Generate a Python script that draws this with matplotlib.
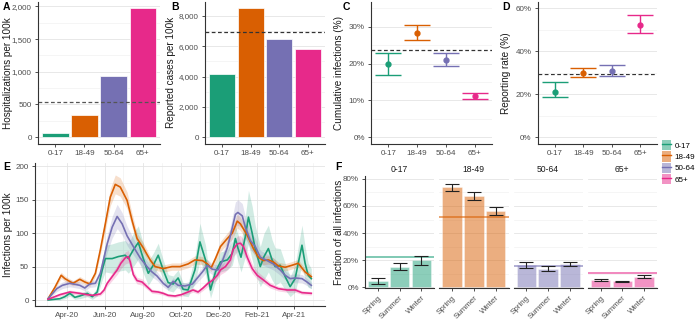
import numpy as np
import matplotlib
matplotlib.use("Agg")
import matplotlib.pyplot as plt
import matplotlib.dates as mdates
from matplotlib.patches import Patch
from matplotlib.lines import Line2D
from matplotlib.ticker import FuncFormatter, MultipleLocator

plt.rcParams['font.family'] = ['Liberation Sans', 'DejaVu Sans']

## data ##
ages = ['0-17', '18-49', '50-64', '65+']
cols = ['#1B9E77', '#D95F02', '#7570B3', '#E7298A']

hosp = [60, 340, 940, 1970]
hosp_all = 540
cases = [4200, 8500, 6450, 5850]
cases_all = 6950

cum_inf = [19.8, 28.4, 21.0, 11.1]
cum_lo = [16.8, 26.3, 19.4, 10.3]
cum_hi = [23.0, 30.4, 22.8, 12.1]
cum_all = 23.6

rep_rate = [21.0, 30.0, 31.0, 52.5]
rep_lo = [18.7, 28.2, 28.5, 48.5]
rep_hi = [25.5, 32.0, 33.5, 56.8]
rep_all = 29.5

# infections per 100k, days since 2020-03-01
day_017 = [1, 20, 28, 36, 44, 52, 64, 72, 80, 88, 93, 104, 114, 125, 130, 138, 146, 154, 162, 170,
           178, 186, 194, 202, 210, 218, 226, 237, 245, 254, 262, 270, 278, 289, 297, 302, 306, 311, 318, 323,
           329, 334, 342, 348, 355, 361, 366, 374, 382, 390, 398, 403, 409, 414, 419, 424]
inf_017 = [0, 2, 5, 10, 4, 6, 10, 5, 12, 45, 62, 62, 65, 67, 62, 75, 86, 62, 40, 52,
           67, 45, 26, 24, 33, 16, 15, 45, 87, 60, 15, 42, 57, 60, 70, 92, 78, 64, 95, 124,
           100, 76, 50, 65, 77, 60, 50, 52, 35, 20, 32, 55, 82, 55, 37, 32]
err_017 = [1, 2, 3, 4, 3, 4, 5, 4, 6, 15, 20, 22, 22, 22, 22, 25, 25, 22, 18, 18,
           18, 15, 12, 12, 12, 10, 10, 20, 28, 22, 12, 15, 15, 15, 18, 20, 20, 22, 30, 40,
           40, 35, 30, 35, 35, 30, 28, 25, 20, 15, 20, 25, 30, 25, 18, 15]

day_1849 = [1, 12, 22, 28, 41, 52, 60, 68, 77, 85, 93, 101, 109, 117, 128, 136, 144, 154, 165, 173,
            186, 200, 213, 226, 237, 249, 257, 263, 270, 278, 289, 297, 305, 310, 321, 331, 339, 347, 355, 363,
            371, 382, 393, 403, 414, 424]
inf_1849 = [2, 19, 37, 32, 25, 31, 27, 24, 40, 75, 114, 154, 173, 169, 149, 119, 92, 78, 60, 50,
            47, 50, 50, 54, 60, 59, 54, 48, 62, 80, 92, 100, 118, 114, 97, 77, 64, 59, 60, 57,
            51, 49, 52, 55, 42, 35]

day_5064 = [1, 15, 24, 36, 52, 60, 68, 77, 85, 96, 104, 112, 120, 128, 138, 149, 160, 168, 176, 186,
            194, 202, 210, 221, 233, 241, 249, 257, 265, 274, 281, 289, 295, 302, 306, 313, 318, 326, 334, 342,
            353, 363, 374, 382, 390, 398, 409, 417, 424]
inf_5064 = [2, 17, 22, 25, 22, 18, 24, 25, 40, 84, 109, 125, 114, 96, 80, 63, 50, 42, 36, 25,
            19, 28, 22, 21, 24, 33, 42, 52, 46, 45, 58, 78, 100, 128, 131, 126, 109, 89, 80, 64,
            59, 54, 45, 37, 32, 33, 32, 27, 22]

day_65 = [1, 9, 20, 36, 52, 64, 73, 85, 91, 96, 104, 112, 118, 125, 130, 133, 138, 144, 152, 160,
          168, 178, 186, 194, 205, 215, 226, 234, 242, 250, 258, 266, 273, 278, 286, 294, 298, 305, 310, 315,
          321, 329, 337, 347, 358, 371, 385, 398, 409, 424]
inf_65 = [1, 4, 8, 12, 10, 8, 7, 9, 15, 25, 35, 45, 55, 63, 65, 57, 38, 29, 27, 20,
          13, 12, 10, 7, 6, 8, 12, 15, 12, 18, 25, 30, 37, 45, 50, 60, 75, 84, 85, 80,
          64, 47, 37, 30, 22, 17, 15, 15, 11, 10]

# relative width of the credible band for the smoother series
rel_1849 = 0.07
rel_5064 = 0.13
rel_65 = 0.12

seasons = ['Spring', 'Summer', 'Winter']
frac_mid = [[4.4, 14.8, 19.7], [73.8, 67.7, 56.1], [16.0, 13.0, 16.7], [4.9, 4.2, 7.4]]
frac_lo = [[2.5, 12.3, 16.5], [71.3, 64.5, 53.4], [14.3, 11.8, 15.3], [4.2, 3.9, 6.4]]
frac_hi = [[6.6, 18.0, 23.1], [76.3, 70.1, 59.0], [18.5, 15.3, 18.7], [5.9, 4.7, 8.6]]
pop_share = [22.1, 52.2, 15.7, 10.3]

W, H = 700, 320
def box(l, t, r, b):
    return [l / W, 1 - b / H, (r - l) / W, (b - t) / H]

txt = '#4d4d4d'
TS = 5.8   # tick label size
LS = 7.2   # axis title size
def style(ax, xgrid=False):
    for s in ['top', 'right']:
        ax.spines[s].set_visible(False)
    for s in ['left', 'bottom']:
        ax.spines[s].set_color('#333333')
        ax.spines[s].set_linewidth(0.8)
    ax.tick_params(which='major', labelsize=TS, labelcolor=txt, color='#333333', length=2.5, width=0.6, pad=2)
    ax.tick_params(which='minor', length=0)
    ax.grid(axis='y', which='major', color='#e4e4e4', lw=0.6)
    ax.grid(axis='y', which='minor', color='#f2f2f2', lw=0.5)
    if xgrid:
        ax.grid(axis='x', which='major', color='#e4e4e4', lw=0.6)
        ax.grid(axis='x', which='minor', color='#f2f2f2', lw=0.5)
    ax.set_axisbelow(True)

def ylab(ax, text, xr, l, r):
    # xr: right edge of the rotated title, in pixels
    ax.set_ylabel(text, fontsize=LS, color='#1a1a1a')
    ax.yaxis.set_label_coords((xr - l) / (r - l), 0.5)

comma = FuncFormatter(lambda v, p: f'{int(v):,}')
pct = FuncFormatter(lambda v, p: f'{v:.0f}%')

fig = plt.figure(figsize=(7, 3.2), dpi=100)
x4 = np.arange(4)

## A ##
ax = fig.add_axes(box(38, 2, 160, 143.5))
ax.bar(x4, hosp, 0.9, color=cols, edgecolor='white', lw=0.5)
ax.axhline(hosp_all, color='#555555', ls=(0, (3, 2)), lw=0.9)
ax.set_ylim(-98.5, 2068.5)
ax.set_xlim(-0.6, 3.6)
ax.yaxis.set_major_locator(MultipleLocator(500))
ax.yaxis.set_minor_locator(MultipleLocator(250))
ax.yaxis.set_major_formatter(comma)
ax.set_xticks(x4, ages)
ylab(ax, 'Hospitalizations per 100k', 13, 38, 160)
style(ax)

## B ##
ax = fig.add_axes(box(205, 2, 325, 143.5))
ax.bar(x4, cases, 0.9, color=cols, edgecolor='white', lw=0.5)
ax.axhline(cases_all, color='#333333', ls=(0, (3, 2)), lw=0.9)
ax.set_ylim(-425, 8925)
ax.set_xlim(-0.6, 3.6)
ax.yaxis.set_major_locator(MultipleLocator(2000))
ax.yaxis.set_minor_locator(MultipleLocator(1000))
ax.yaxis.set_major_formatter(comma)
ax.set_xticks(x4, ages)
ylab(ax, 'Reported cases per 100k', 176, 205, 325)
style(ax)

## C, D ##
for (l, r), mid, lo, hi, ref, lim, step, lab, xr in [
        ((371, 492), cum_inf, cum_lo, cum_hi, cum_all, (-1.75, 36.75), 10, 'Cumulative infections (%)', 344),
        ((538, 657), rep_rate, rep_lo, rep_hi, rep_all, (-3, 63), 20, 'Reporting rate (%)', 511)]:
    ax = fig.add_axes(box(l, 2, r, 143.5))
    for i in range(4):
        ax.errorbar(i, mid[i], yerr=[[mid[i] - lo[i]], [hi[i] - mid[i]]], color=cols[i],
                    fmt='o', ms=3.5, lw=1.0, capsize=9.5, capthick=1.0)
    ax.axhline(ref, color='#333333', ls=(0, (3, 2)), lw=0.9, zorder=0.5)
    ax.set_ylim(*lim)
    ax.set_xlim(-0.6, 3.6)
    ax.yaxis.set_major_locator(MultipleLocator(step))
    ax.yaxis.set_minor_locator(MultipleLocator(step / 2))
    ax.yaxis.set_major_formatter(pct)
    ax.set_xticks(x4, ages)
    ylab(ax, lab, xr, l, r)
    style(ax)

## legend ##
handles = [(Patch(facecolor=c, alpha=0.5, lw=0), Line2D([], [], color=c, lw=1)) for c in cols]
fig.legend(handles, ages, loc='upper left', bbox_to_anchor=(662 / W, 1 - 140 / H), frameon=False,
           fontsize=5.8, handlelength=1.1, handleheight=1.6, labelspacing=0.12, handletextpad=0.5,
           borderaxespad=0, borderpad=0)

## E ##
ax = fig.add_axes(box(35, 163, 325, 305.7))
t0 = np.datetime64('2020-03-01')
series = [
    (day_017, inf_017, np.array(err_017)),
    (day_1849, inf_1849, rel_1849 * np.array(inf_1849) + 2),
    (day_5064, inf_5064, rel_5064 * np.array(inf_5064) + 2),
    (day_65, inf_65, rel_65 * np.array(inf_65) + 1.5),
]
for (d, v, e), c in zip(series, cols):
    dt = t0 + np.array(d).astype('timedelta64[D]')
    v = np.array(v, float)
    ax.fill_between(dt, np.maximum(v - e, 0), v + e, color=c, alpha=0.2, lw=0)
for (d, v, e), c in zip(series, cols):
    dt = t0 + np.array(d).astype('timedelta64[D]')
    ax.plot(dt, v, color=c, lw=1.2)
ax.set_xlim(t0 - np.timedelta64(20, 'D'), t0 + np.timedelta64(446, 'D'))
ax.set_ylim(-8.5, 205)
ax.xaxis.set_major_locator(mdates.MonthLocator(bymonth=[2, 4, 6, 8, 10, 12]))
ax.xaxis.set_minor_locator(mdates.MonthLocator(bymonth=[1, 3, 5, 7, 9, 11]))
ax.xaxis.set_major_formatter(mdates.DateFormatter('%b-%y'))
ax.yaxis.set_major_locator(MultipleLocator(50))
ax.yaxis.set_minor_locator(MultipleLocator(25))
ylab(ax, 'Infections per 100k', 13, 35, 325)
style(ax, xgrid=True)

## F ##
x3 = np.arange(3)
fw = (657 - 365 - 15) / 4
for i in range(4):
    l = 365 + i * (fw + 5)
    ax = fig.add_axes(box(l, 176, l + fw, 288))
    mid = np.array(frac_mid[i])
    ax.bar(x3, mid, 0.9, color=cols[i], alpha=0.5, edgecolor='white', lw=0.5)
    ax.axhline(pop_share[i], color=cols[i], alpha=0.65, lw=1.2)
    ax.errorbar(x3, mid, yerr=[mid - np.array(frac_lo[i]), np.array(frac_hi[i]) - mid], fmt='none',
                ecolor='#222222', lw=0.8, capsize=5, capthick=0.8)
    ax.set_ylim(-0.7, 82.2)
    ax.set_xlim(-0.6, 2.6)
    ax.yaxis.set_major_locator(MultipleLocator(20))
    ax.yaxis.set_minor_locator(MultipleLocator(10))
    ax.yaxis.set_major_formatter(pct)
    ax.set_xticks(x3, seasons, rotation=45, ha='right', rotation_mode='anchor')
    ax.set_title(ages[i], fontsize=6.2, pad=3, color='#1a1a1a')
    style(ax)
    if i == 0:
        ylab(ax, 'Fraction of all infections', 344, l, l + fw)
    else:
        ax.spines['left'].set_visible(False)
        ax.tick_params(axis='y', which='both', left=False, labelleft=False)

## panel letters ##
for lab, x, y in [('A', 3, 2), ('B', 171, 2), ('C', 343, 2), ('D', 502, 2), ('E', 3, 162), ('F', 335, 162)]:
    fig.text(x / W, 1 - y / H, lab, fontsize=7.5, fontweight='bold', va='top', ha='left')

fig.savefig('out.png', dpi=100)
